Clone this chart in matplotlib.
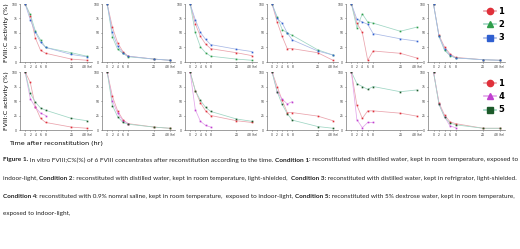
import numpy as np
import matplotlib
matplotlib.use('Agg')
import matplotlib.pyplot as plt
from matplotlib.lines import Line2D

# sampling times (hr) and tick labels
hours = [0, 2, 4, 6, 8, 24, 48]
tick_labels = ['0', '2', '4', '6', '8', '24', '48 (hr)']
yticks = [0, 25, 50, 75, 100]

# top row: conditions 1, 2, 3 for each of the 6 concentrates
top_cond1 = [[100, 80, 41, 20, 15, 5, 3],
             [100, 60, 33, 18, 10, 5, 3],
             [100, 66, 44, 31, 23, 16, 11],
             [100, 69, 44, 23, 23, 16, 3],
             [100, 67, 51, 3, 19, 15, 7],
             [100, 46, 26, 14, 8, 4, 3]]
top_cond2 = [[100, 82, 53, 38, 25, 16, 10],
             [100, 43, 22, 15, 9, 5, 3],
             [100, 51, 26, 16, 10, 5, 3],
             [100, 78, 56, 50, 46, 21, 12],
             [100, 59, 83, 69, 67, 53, 60],
             [100, 44, 20, 11, 7, 4, 3]]
top_cond3 = [[100, 73, 51, 34, 25, 13, 9],
             [100, 51, 27, 16, 10, 5, 3],
             [100, 73, 51, 39, 30, 22, 18],
             [100, 75, 67, 50, 38, 19, 12],
             [100, 74, 69, 65, 49, 40, 36],
             [100, 44, 23, 12, 7, 4, 3]]

# bottom row: conditions 1, 4, 5 (condition 4 only followed to 8 hr)
bot_cond1 = [[100, 82, 40, 20, 13, 5, 3],
             [100, 58, 33, 18, 11, 5, 3],
             [100, 68, 47, 33, 25, 16, 13],
             [100, 75, 51, 30, 30, 24, 16],
             [100, 43, 20, 33, 33, 29, 24],
             [100, 47, 26, 14, 11, 3, 3]]
bot_cond4 = [[100, 54, 39, 29, 25],
             [100, 50, 29, 16, 11],
             [100, 35, 15, 8, 5],
             [100, 66, 53, 45, 49],
             [100, 18, 4, 13, 13],
             [100, 45, 23, 7, 4]]
bot_cond5 = [[100, 63, 48, 38, 34, 20, 16],
             [100, 42, 23, 13, 10, 5, 3],
             [100, 68, 51, 39, 32, 19, 15],
             [100, 66, 44, 28, 17, 6, 3],
             [100, 80, 75, 70, 75, 66, 69],
             [100, 44, 22, 12, 9, 3, 3]]

top_names = ['1', '2', '3']
bot_names = ['1', '4', '5']

line_cols = {'1': '#eaa3ac', '2': '#9fd6c4', '3': '#a9b9e6', '4': '#e3a6ea', '5': '#9fd6c4'}
mark_cols = {'1': '#e0303a', '2': '#2e9e4a', '3': '#2f5fd0', '4': '#c040d0', '5': '#1c5a2a'}
mark_shape = {'1': 'o', '2': '^', '3': 's', '4': '^', '5': 's'}

# piecewise axis: 0-8 hr evenly, then compressed to 24 and 48 hr
brk_hr = [0, 8, 24, 48]
brk_ax = [0, 4, 9, 12]


def fwd(x):
    return np.interp(x, brk_hr, brk_ax, left=-1, right=13)


def inv(x):
    return np.interp(x, brk_ax, brk_hr, left=-2, right=52)


plt.rcParams['font.family'] = ['DejaVu Sans']
fig = plt.figure(figsize=(5.2, 2.49), dpi=100)
W, H = 520.0, 249.0

lefts = [20, 102, 185, 267, 346, 428]
rights = [92, 175, 257, 338, 422, 505]
rows = [(4, 62), (72, 130)]


def draw_panel(ax, series, names):
    for vals, nm in zip(series, names):
        xs = hours[:len(vals)]
        ax.plot(xs, vals, color=line_cols[nm], lw=0.55, zorder=2)
        ax.plot(xs, vals, ls='none', marker='s', ms=1.2, mec='none',
                mfc=mark_cols[nm], zorder=3)
    ax.set_xscale('function', functions=(fwd, inv))
    ax.set_xlim(-0.8, 52)
    ax.set_ylim(0, 100)
    ax.set_xticks(hours)
    ax.set_xticklabels(tick_labels)
    ax.set_yticks(yticks)
    ax.tick_params(labelsize=2.2, length=1, width=0.4, pad=1, colors='#333333')
    for s in ['top', 'right']:
        ax.spines[s].set_visible(False)
    for s in ['left', 'bottom']:
        ax.spines[s].set_linewidth(0.5)
        ax.spines[s].set_color('#777777')


for r, (y0, y1) in enumerate(rows):
    for p in range(6):
        ax = fig.add_axes([lefts[p] / W, 1 - y1 / H, (rights[p] - lefts[p]) / W, (y1 - y0) / H])
        if r == 0:
            series = [top_cond1[p], top_cond2[p], top_cond3[p]]
            draw_panel(ax, series, top_names)
        else:
            series = [bot_cond1[p], bot_cond4[p], bot_cond5[p]]
            draw_panel(ax, series, bot_names)
        if p == 0:
            ax.set_ylabel('FVIII:C activity (%)', fontsize=4.6, labelpad=2)
            if r == 1:
                ax.set_xlabel('Time after reconstitution (hr)', fontsize=4.6, labelpad=3)

# legends
for names, ytop in [(top_names, 0.012), (bot_names, 0.301)]:
    handles = [Line2D([0], [0], color=line_cols[n], lw=1.2, marker=mark_shape[n], ms=4.5,
                      mfc=mark_cols[n], mec=mark_cols[n]) for n in names]
    leg = fig.legend(handles, names, loc='upper left', bbox_to_anchor=(0.923, 1 - ytop),
                     frameon=False, fontsize=6, handlelength=1.4, labelspacing=0.5,
                     handletextpad=0.3, borderpad=0)
    for t in leg.get_texts():
        t.set_fontweight('bold')

# caption, each line fitted to the width it has in the figure
caption = [
    [('Figure 1.', True), (' In vitro FVIII;C%(%) of 6 FVIII concentrates after reconstitution according to the time. ', False),
     ('Condition 1', True), (': reconstituted with distilled water, kept in room temperature, exposed to', False)],
    [('indoor-light, ', False), ('Condition 2', True), (': reconstituted with distilled water, kept in room temperature, light-shielded,  ', False),
     ('Condition 3:', True), (' reconstituted with distilled water, kept in refrigrator, light-shielded.', False)],
    [('Condition 4', True), (': reconstituted with 0.9% nomral saline, kept in room temperature,  exposed to indoor-light, ', False),
     ('Condition 5:', True), (' reconstituted with 5% dextrose water, kept in room temperature,', False)],
    [('exposed to indoor-light,', False)],
]
line_y = [160, 178, 196, 213]
line_end = [515, 518, 512, None]
fig.canvas.draw()
renderer = fig.canvas.get_renderer()


def put_line(parts, ly, size):
    x = 3.0
    texts = []
    for txt, bold in parts:
        t = fig.text(x / W, 1 - ly / H, txt, fontsize=size, family='Lato',
                     fontweight='bold' if bold else 'normal', color='#222222', va='center')
        x += t.get_window_extent(renderer).width
        texts.append(t)
    return x, texts


size = 4.6
for parts, ly, xe in zip(caption, line_y, line_end):
    if xe is not None:
        x_end, texts = put_line(parts, ly, 4.6)
        size = 4.6 * (xe - 3.0) / (x_end - 3.0)
        for t in texts:
            t.remove()
    put_line(parts, ly, size)

fig.savefig('out.png', dpi=100)
